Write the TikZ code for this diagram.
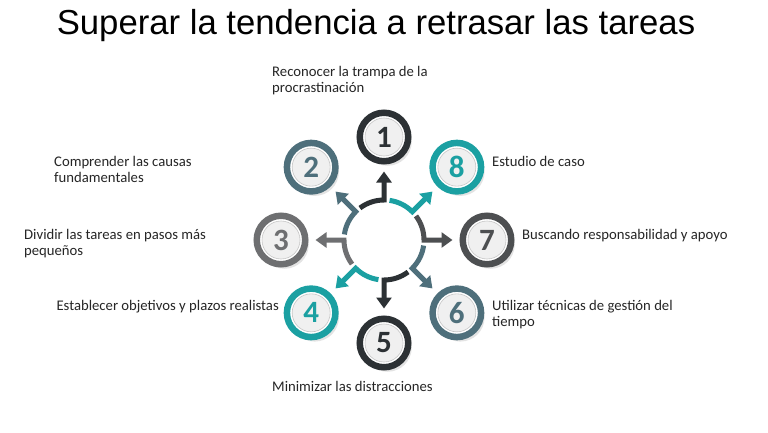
\documentclass[tikz,border=0pt]{standalone}
\usepackage{fontspec}
\setmainfont{Carlito}
\newfontfamily\titlefont{Liberation Sans}
\usetikzlibrary{arrows.meta,calc,positioning,shadows}
\definecolor{stepdark}{HTML}{2C3134}
\definecolor{stepslate}{HTML}{4E6F7B}
\definecolor{stepteal}{HTML}{1BA0A2}
\definecolor{stepgray}{HTML}{6E6F71}
\definecolor{stepmid}{HTML}{4D4F51}

\begin{document}
\begin{tikzpicture}[x=1pt,y=1pt,font=\fontsize{14.7}{16}\selectfont,
      stepcircle/.style={circle,draw=#1,line width=6.5pt,fill=white,minimum size=48.5pt,inner sep=0pt,
        text=#1,font=\fontsize{31}{31}\selectfont\bfseries,
        drop shadow={shadow xshift=3.5pt,shadow yshift=-4.5pt,opacity=.22},
        path picture={\fill[gray!12] (path picture bounding box.center) circle (19pt);
          \draw[gray!45,line width=.6pt] (path picture bounding box.center) circle (19pt);}},
      steptext/.style={anchor=west,align=left,inner sep=0pt,text=black!85},
      ring/.style={line width=5pt,draw=#1,-{Triangle[width=15pt,length=11pt]},shorten >=7pt}]
      \fill[white] (0,0) rectangle (768,432);
      \useasboundingbox (0,0) rectangle (768,432);
      \node[font=\titlefont\fontsize{34.7}{40}\selectfont] (title) at (376,406) {Superar la tendencia a retrasar las tareas};
      \node[circle,minimum size=80pt] (hub) at (384,192) {};
      % numbered steps round the hub
      \foreach \n/\a/\c in {1/90/stepdark,2/135/stepslate,3/180/stepgray,4/225/stepteal,
                            5/270/stepdark,6/315/stepslate,7/0/stepmid,8/45/stepteal}
        \node[stepcircle=\c] (n\n) at ([shift={(\a:103)}]hub.center) {\n};
      \foreach \n/\a/\c in {1/90/stepdark,2/135/stepslate,3/180/stepgray,4/225/stepteal,
                            5/270/stepdark,6/315/stepslate,7/0/stepmid,8/45/stepteal}
        \draw[ring=\c] ([shift={(\a+37:40)}]hub.center) arc[start angle=\a+37,end angle=\a,radius=40] -- (n\n);
      % labels
      \node[steptext] (t1) at (272,351) {Reconocer la trampa de la\\procrastinación};
      \node[steptext] (t2) at (54,263) {Comprender las causas\\fundamentales};
      \node[steptext] (t8) at (492,271) {Estudio de caso};
      \node[steptext] (t3) at (24,188) {Dividir las tareas en pasos más\\pequeños};
      \node[steptext] (t7) at (522,196) {Buscando responsabilidad y apoyo};
      \node[steptext,anchor=east] (t4) at (279,125) {Establecer objetivos y plazos realistas};
      \node[steptext] (t6) at (492,117) {Utilizar técnicas de gestión del\\tiempo};
      \node[steptext] (t5) at (272,46) {Minimizar las distracciones};
    \end{tikzpicture}
\end{document}
